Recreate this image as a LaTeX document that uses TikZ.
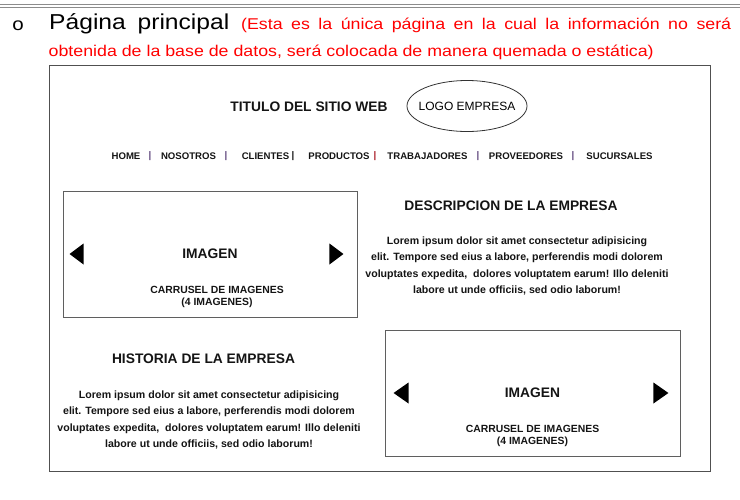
\documentclass[tikz,border=0pt]{standalone}
\usepackage{fontspec}
\setmainfont{Liberation Sans}
\newfontfamily\headfont[FakeStretch=1.14]{Liberation Sans}
\usepackage{tikz}
\usetikzlibrary{shapes.geometric, positioning}
\usepackage{xcolor}
\definecolor{cRed}{RGB}{255,0,0}
\definecolor{cFrame}{RGB}{80,80,80}
\definecolor{cBox}{RGB}{95,95,95}
\definecolor{cRule}{RGB}{140,140,140}
\definecolor{cSep}{RGB}{95,70,125}
\definecolor{cSepRed}{RGB}{170,30,40}
\definecolor{cInk}{RGB}{20,20,20}
\tikzset{
  headnode/.style={inner sep=0pt, font=\headfont\fontsize{18}{22}\selectfont},
  titlenode/.style={inner sep=0pt, text=cInk, font=\fontsize{13.8}{16}\selectfont\bfseries},
  menunode/.style={inner sep=0pt, text=cInk, font=\fontsize{9.6}{11}\selectfont\bfseries},
  bodynode/.style={inner sep=0pt, text=cInk, align=center,
                   font=\fontsize{10.6}{16.3}\selectfont\bfseries},
  capnode/.style={inner sep=0pt, text=cInk, align=center,
                  font=\fontsize{10.4}{12}\selectfont\bfseries},
  carrusel/.style={rectangle, draw=cBox, line width=0.9pt, inner sep=0pt,
                   minimum width=294pt, minimum height=126pt},
  logonode/.style={ellipse, draw=black!80, line width=0.8pt, inner sep=0pt,
                   minimum width=120pt, minimum height=51pt}
}

\begin{document}
\begin{tikzpicture}[x=1pt, y=-1pt]
  \useasboundingbox (0,0) rectangle (740,499);
  \draw[cRule, line width=1.3pt] (0,4.5) -- (740,4.5);
  \draw[cRule, line width=0.8pt] (0,7.5) -- (740,7.5);

  \node[headnode, anchor=base] (bullet) at (18,30) {o};
  \node[anchor=base west, inner sep=0pt] (head1) at (49,29.3) {\makebox[682pt][s]{%
    \headfont\fontsize{21.6}{26}\selectfont Página principal
    \color{cRed}\fontsize{15.6}{18}\selectfont (Esta es la única página en la cual la información no será}};
  \node[anchor=base west, inner sep=0pt, text=cRed,
        font=\headfont\fontsize{15.6}{18}\selectfont] (head2) at (48.5,56)
    {obtenida de la base de datos, será colocada de manera quemada o estática)};

  \node[draw=cFrame, line width=1.2pt, anchor=north west, inner sep=0pt,
        minimum width=661pt, minimum height=406pt] (frame) at (49,65) {};

  \node[titlenode] (sitio) at (309,107) {TITULO DEL SITIO WEB};
  \node[logonode] (logo) at (467,106) {};
  \node[inner sep=0pt, font=\fontsize{12}{14}\selectfont] (logoTxt) at (logo.center) {LOGO EMPRESA};

  \foreach \x/\t [count=\i] in {126/HOME, 188.5/NOSOTROS, 265.5/CLIENTES, 339/PRODUCTOS,
                                 427.5/TRABAJADORES, 526/PROVEEDORES, 619.5/SUCURSALES}
    \node[menunode] (menu\i) at (\x,156) {\t};
  \foreach \x/\c [count=\i] in {150/cSep, 226/cSep, 293/cInk, 375/cSepRed, 478/cSep, 573/cSep}
    \node[menunode, text=\c] (sep\i) at (\x,156) {|};

  \node[carrusel] (carA) at (210,254) {};
  \node[titlenode] (imgA) at (carA.center) {IMAGEN};
  \node[capnode] (capA) at ([xshift=7pt, yshift=-43pt]carA.center) {CARRUSEL DE IMAGENES\\(4 IMAGENES)};
  \fill ([xshift=7pt]carA.west) -- ++(14pt,10.5pt) -- ++(0,-21pt) -- cycle;
  \fill ([xshift=-14pt]carA.east) -- ++(-14pt,10.5pt) -- ++(0,-21pt) -- cycle;

  \node[titlenode] (desc) at (511,206) {DESCRIPCION DE LA EMPRESA};
  \node[bodynode] (descTxt) at (517,266) {Lorem ipsum dolor sit amet consectetur adipisicing\\
    elit. Tempore sed eius a labore, perferendis modi dolorem\\
    voluptates expedita,~ dolores voluptatem earum! Illo deleniti\\
    labore ut unde officiis, sed odio laborum!};

  \node[titlenode] (hist) at (203.5,359) {HISTORIA DE LA EMPRESA};
  \node[bodynode] (histTxt) at (209,420) {Lorem ipsum dolor sit amet consectetur adipisicing\\
    elit. Tempore sed eius a labore, perferendis modi dolorem\\
    voluptates expedita,~ dolores voluptatem earum! Illo deleniti\\
    labore ut unde officiis, sed odio laborum!};

  \node[carrusel, minimum width=295pt] (carB) at (532.5,393) {};
  \node[titlenode] (imgB) at (carB.center) {IMAGEN};
  \node[capnode] (capB) at ([yshift=-43pt]carB.center) {CARRUSEL DE IMAGENES\\(4 IMAGENES)};
  \fill ([xshift=9pt]carB.west) -- ++(15pt,10.5pt) -- ++(0,-21pt) -- cycle;
  \fill ([xshift=-12pt]carB.east) -- ++(-15pt,10.5pt) -- ++(0,-21pt) -- cycle;
\end{tikzpicture}
\end{document}
